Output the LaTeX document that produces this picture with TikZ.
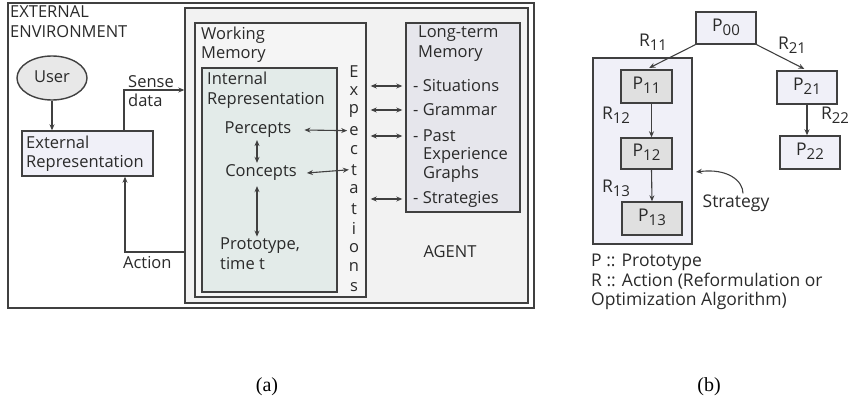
\documentclass[tikz,border=0pt]{standalone}
\usepackage{fontspec}
\setmainfont{Open Sans}
\newfontfamily\capfont{Liberation Serif}
\usetikzlibrary{arrows.meta,fit,shapes.geometric}
\definecolor{ln}{HTML}{404040}
\definecolor{tx}{HTML}{2A2A2A}
\definecolor{agentfill}{HTML}{F2F2F2}
\definecolor{wmfill}{HTML}{F5F5F5}
\definecolor{irfill}{HTML}{E3EBE9}
\definecolor{ltmfill}{HTML}{E6E6EC}
\definecolor{lavfill}{HTML}{F0F0F8}
\definecolor{pgray}{HTML}{E0E0E0}
\definecolor{userfill}{HTML}{E8E8E8}
\newcommand\sbs[1]{\raisebox{-4pt}{\fontsize{15}{15}\selectfont #1}}
\tikzset{
  box/.style={draw=ln, line width=1.4pt, inner sep=0pt},
  txt/.style={inner sep=0pt, font=\fontsize{16.5}{19.5}\selectfont, text=tx},
  btxt/.style={inner sep=0pt, font=\fontsize{17.5}{19.5}\selectfont, text=tx},
  arr/.style={draw=ln, line width=1.1pt, -{Stealth[length=6pt,width=5pt]}},
  darr/.style={draw=ln, line width=1.1pt, {Stealth[length=6pt,width=5pt]}-{Stealth[length=6pt,width=5pt]}},
}
\begin{document}
\begin{tikzpicture}[x=1pt,y=-1pt]
\useasboundingbox (0,0) rectangle (851,401);
% ---------- (a) ----------
\node[box, fill=white, fit={(8,3)(534,308)}] (env) {};
\node[box, fill=agentfill, fit={(185,8)(528,303)}] (agent) {};
\node[box, fill=wmfill, fit={(195,23)(366,297)}] (wm) {};
\node[box, fill=irfill, fit={(202,68)(337,292)}] (ir) {};
\node[box, fill=ltmfill, fit={(406,23)(520,212)}] (ltm) {};
\node[box, fill=userfill, ellipse, minimum width=70pt, minimum height=44pt] (user) at (52,78) {};
\node[txt] (usertxt) at (52,77) {User};
\node[box, fill=lavfill, fit={(22,131)(153,176)}] (extrep) {};
\node[txt, anchor=west, align=left] (extreptxt) at (26,153.5) {External\\Representation};

\node[txt, anchor=west, align=left] (envtxt) at (10,21.5) {EXTERNAL\\ENVIRONMENT};
\node[txt, anchor=west, align=left] (wmtxt) at (201,44.5) {Working\\Memory};
\node[txt, anchor=west, align=left] (irtxt) at (207,90) {Internal\\Representation};
\node[txt, anchor=west, align=left] (ltmtxt) at (418,43.5) {Long-term\\Memory};

\node[txt] (percepts) at (258,130) {Percepts};
\node[txt] (concepts) at (261,173) {Concepts};
\node[txt, anchor=west, align=left] (proto) at (220,253.5) {Prototype,\\time t};

\foreach \l [count=\i from 0] in {E,x,p,e,c,t,a,t,i,o,n,s}{
  \node[txt] (e\i) at (354,{72+19.55*\i}) {\l};
}

\node[txt, anchor=west] (sit) at (413,86) {- Situations};
\node[txt, anchor=west] (gram) at (413,110) {- Grammar};
\node[txt, anchor=west] (past) at (413,136) {- Past};
\node[txt, anchor=west] (exper) at (423,155) {Experience};
\node[txt, anchor=west] (graphs) at (423,174) {Graphs};
\node[txt, anchor=west] (strats) at (413,199) {- Strategies};
\node[txt] (agenttxt) at (450,252) {AGENT};

\node[txt, anchor=west, align=left] (sensetxt) at (128,91) {Sense\\data};
\node[txt, anchor=west] (actiontxt) at (123,263) {Action};

\coordinate (sd) at (124,90);
\coordinate (ac) at (125,252);
\draw[arr] (user.south) -- (user.south |- extrep.north);
\draw[arr] (extrep.north -| sd) |- (agent.west |- sd);
\draw[arr] (agent.west |- ac) -| (extrep.south -| ac);

\draw[darr] ([xshift=-1pt,yshift=-2pt]percepts.south) -- ([xshift=-1pt,yshift=2pt]percepts.south |- concepts.north);
\draw[darr] ([xshift=-4pt,yshift=-5pt]concepts.south) -- ([xshift=-4pt,yshift=1pt]concepts.south |- proto.north);
\draw[darr] ([xshift=13pt]percepts.east) -- ([xshift=-2pt]e3.west);
\draw[darr] ([xshift=10pt]concepts.east) -- ([xshift=-2pt]e5.west);

\foreach \t in {sit,gram,past,strats}{
  \draw[darr] ([xshift=4pt]wm.east |- \t.west) -- ([xshift=-3pt]ltm.west |- \t.west);
}

% ---------- (b) ----------
\node[box, fill=lavfill, fit={(593,58)(692,244)}] (stratbox) {};
\node[box, fill=lavfill, fit={(696,12)(756,44)}] (p00) {};
\node[box, fill=pgray, fit={(621,70)(672,103)}] (p11) {};
\node[box, fill=pgray, fit={(621,138)(672,169)}] (p12) {};
\node[box, fill=pgray, fit={(622,202)(682,235)}] (p13) {};
\node[box, fill=lavfill, fit={(777,71)(837,104)}] (p21) {};
\node[box, fill=lavfill, fit={(780,136)(840,169)}] (p22) {};

\node[btxt] (p00t) at ([yshift=1pt]p00.center) {P\sbs{00}};
\node[btxt] (p11t) at ([yshift=1pt]p11.center) {P\sbs{11}};
\node[btxt] (p12t) at ([yshift=1pt]p12.center) {P\sbs{12}};
\node[btxt] (p13t) at ([yshift=1pt]p13.center) {P\sbs{13}};
\node[btxt] (p21t) at ([yshift=1pt]p21.center) {P\sbs{21}};
\node[btxt] (p22t) at ([yshift=1pt]p22.center) {P\sbs{22}};

\node[btxt] (r11) at (653,42) {R\sbs{11}};
\node[btxt] (r21) at (792,45) {R\sbs{21}};
\node[btxt] (r12) at (616,115) {R\sbs{12}};
\node[btxt] (r22) at (835,115) {R\sbs{22}};
\node[btxt] (r13) at (616,188) {R\sbs{13}};

\draw[arr, shorten >=3pt] (p00.south west) -- (p11.north);
\draw[arr, shorten >=3pt] (p00.south east) -- (p21.north);
\draw[arr] ([xshift=5pt]p11.south) -- ([xshift=5pt]p11.south |- p12.north);
\draw[arr] ([xshift=5pt]p12.south) -- (p13.north);
\draw[arr] (p21.south) -- (p21.south |- p22.north);

\node[btxt] (strat) at (736,203) {Strategy};
\coordinate (stend) at (696,172);
\draw[arr] ([xshift=7pt,yshift=1pt]strat.north) .. controls (743,181) and (728,168) .. (stend);

\node[btxt, anchor=west, align=left] (legend) at (591,282) {P :: Prototype\\R :: Action (Reformulation or\\Optimization Algorithm)};

\node[inner sep=0pt, font=\capfont\fontsize{20}{22}\selectfont] (cap-a) at (267,387) {(a)};
\node[inner sep=0pt, font=\capfont\fontsize{20}{22}\selectfont] (cap-b) at (709,387) {(b)};
\end{tikzpicture}
\end{document}
